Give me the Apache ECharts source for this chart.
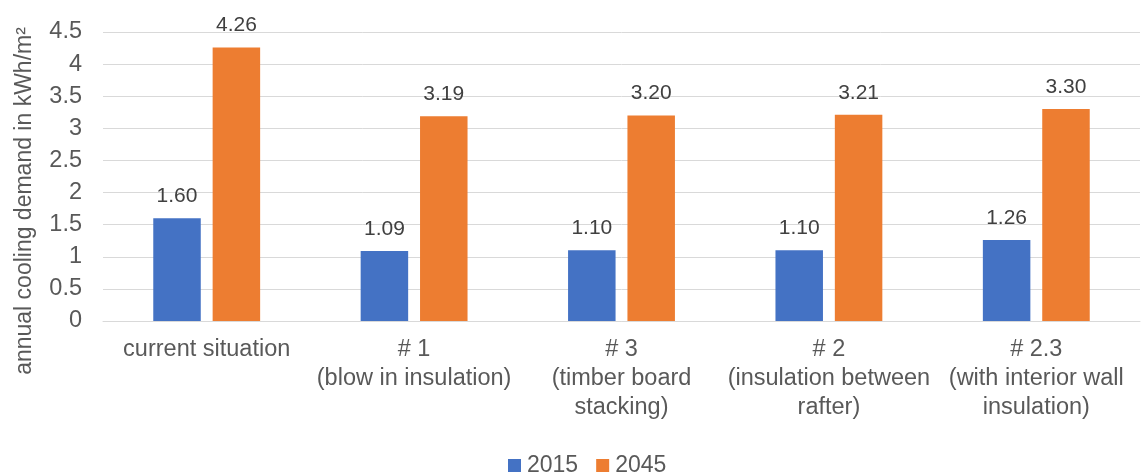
<!DOCTYPE html>
<html><head><meta charset="utf-8">
<script src="https://cdn.jsdelivr.net/npm/echarts@6/dist/echarts.min.js"></script>
<style>html,body{margin:0;padding:0;background:#fff}#c{width:1145px;height:475px}</style>
</head><body><div id="c"></div>
<script>
const categories = ["current situation", "# 1\n(blow in insulation)", "# 3\n(timber board\nstacking)", "# 2\n(insulation between\nrafter)", "# 2.3\n(with interior wall\ninsulation)"];
const values2015 = [1.60, 1.09, 1.10, 1.10, 1.26];
const values2045 = [4.26, 3.19, 3.20, 3.21, 3.30];
const seriesNames = ["2015", "2045"];
const yAxisName = "annual cooling demand in kWh/m²";

const chart = echarts.init(document.getElementById('c'), null, {renderer: 'canvas'});
const txt = '#595959';
const font = "'Liberation Sans', Arial, sans-serif";
const lbl = {show: true, position: 'top', distance: 11.5, color: '#404040', fontSize: 21, fontFamily: font, formatter: p => p.value.toFixed(2)};
chart.setOption({
  animation: false,
  textStyle: {fontFamily: font},
  grid: {left: 103, right: 5, top: 32, bottom: 154, containLabel: false},
  legend: {
    bottom: -7, left: 503, itemWidth: 13, itemHeight: 13, itemGap: 18,
    icon: 'rect', textStyle: {color: txt, fontSize: 23, fontFamily: font, padding: [0,0,0,1]},
    data: seriesNames
  },
  xAxis: {
    type: 'category', data: categories,
    axisLine: {lineStyle: {color: '#d9d9d9', width: 1}},
    axisTick: {show: false},
    axisLabel: {color: txt, fontSize: 23.5, fontFamily: font, lineHeight: 29, margin: 14, interval: 0}
  },
  yAxis: {
    type: 'value', min: 0, max: 4.5, interval: 0.5,
    name: yAxisName, nameLocation: 'middle', nameGap: 67,
    nameTextStyle: {color: txt, fontSize: 23, fontFamily: font, padding: [0, 49, 0, 0]},
    axisLine: {show: false}, axisTick: {show: false},
    splitLine: {lineStyle: {color: '#d9d9d9', width: 1}},
    axisLabel: {color: txt, fontSize: 23.5, fontFamily: font, margin: 21}
  },
  series: [
    {name: seriesNames[0], type: 'bar', data: values2015, barWidth: 47.5, barGap: '25%', itemStyle: {color: '#4472C4'}, label: lbl},
    {name: seriesNames[1], type: 'bar', data: values2045, barWidth: 47.5, itemStyle: {color: '#ED7D31'}, label: lbl}
  ]
});
</script></body></html>
